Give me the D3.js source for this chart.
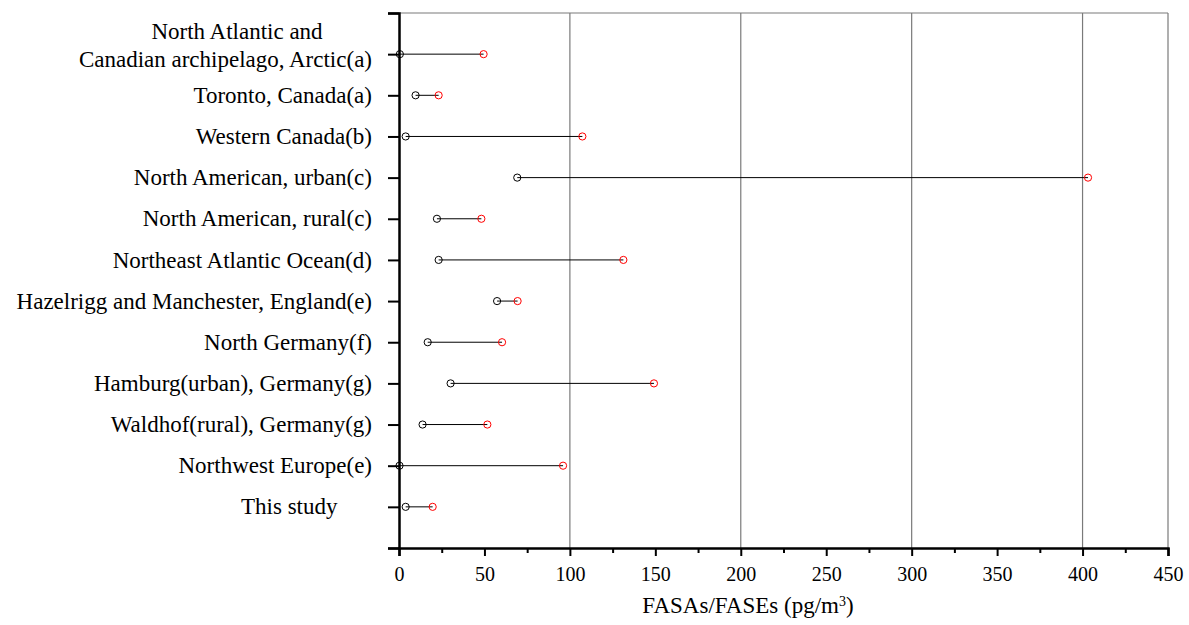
<!DOCTYPE html>
<html>
<head>
<meta charset="utf-8">
<script src="https://cdn.jsdelivr.net/npm/d3@7"></script>
<style>
  html, body { margin: 0; padding: 0; background: #fff; }
  svg { display: block; }
  text { font-family: "Liberation Serif", "Times New Roman", serif; fill: #000; }
</style>
</head>
<body>
<svg id="chart" width="1189" height="625"></svg>
<script>
// ---- data ----
const categories = [
  ["North Atlantic and", "Canadian archipelago, Arctic(a)"],
  ["Toronto, Canada(a)"],
  ["Western Canada(b)"],
  ["North American, urban(c)"],
  ["North American, rural(c)"],
  ["Northeast Atlantic Ocean(d)"],
  ["Hazelrigg and Manchester, England(e)"],
  ["North Germany(f)"],
  ["Hamburg(urban), Germany(g)"],
  ["Waldhof(rural), Germany(g)"],
  ["Northwest Europe(e)"],
  ["This study\u00A0\u00A0\u00A0\u00A0\u00A0\u00A0"]
];
const minValues = [0.5, 9.7, 3.9, 69.2, 22.2, 23.2, 57.4, 16.8, 30.2, 13.8, 0.3, 3.9];
const maxValues = [49.5, 23.2, 107.3, 403.2, 48.2, 131.3, 69.4, 60.3, 149.2, 51.7, 96, 19.7];
const xTicks = [0, 50, 100, 150, 200, 250, 300, 350, 400, 450];
const xMinorTicks = [25, 75, 125, 175, 225, 275, 325, 375, 425];
const gridValues = [100, 200, 300, 400];
const xTitle = "FASAs/FASEs (pg/m";

// ---- layout ----
const svg = d3.select("#chart");
const mLeft = 399, mRight = 1168, mTop = 13, mBottom = 548;
const x = d3.scaleLinear().domain([0, 450]).range([mLeft, mRight]);
const nSlots = categories.length + 1;
const y = d3.scaleLinear().domain([0, nSlots]).range([mTop, mBottom]);

// grid lines
svg.append("g").selectAll("line").data(gridValues).join("line")
  .attr("x1", d => x(d)).attr("x2", d => x(d))
  .attr("y1", mTop).attr("y2", mBottom)
  .attr("stroke", "#7a7a7a").attr("stroke-width", 1.2);

// top & right frame
svg.append("line").attr("x1", mLeft).attr("x2", mRight).attr("y1", mTop).attr("y2", mTop)
  .attr("stroke", "#7a7a7a").attr("stroke-width", 1.2);
svg.append("line").attr("x1", mRight).attr("x2", mRight).attr("y1", mTop).attr("y2", mBottom)
  .attr("stroke", "#7a7a7a").attr("stroke-width", 1.2);

// x axis
const xAxis = d3.axisBottom(x).tickValues(xTicks).tickSize(8).tickPadding(11).tickFormat(d3.format("d"));
const gx = svg.append("g").attr("transform", `translate(0,${mBottom})`).call(xAxis);
gx.select(".domain").attr("stroke", "#000").attr("stroke-width", 2.5);
gx.selectAll(".tick line").attr("stroke", "#000").attr("stroke-width", 2);
gx.selectAll(".tick text").attr("font-size", "20px").attr("font-family", "Liberation Serif, serif").attr("fill", "#000");
const xMinor = d3.axisBottom(x).tickValues(xMinorTicks).tickSize(5).tickFormat("");
const gxm = svg.append("g").attr("transform", `translate(0,${mBottom})`).call(xMinor);
gxm.select(".domain").remove();
gxm.selectAll(".tick line").attr("stroke", "#000").attr("stroke-width", 2);

// y axis
const yAxis = d3.axisLeft(y).tickValues(d3.range(0, nSlots + 1)).tickSize(11).tickFormat("");
const gy = svg.append("g").attr("transform", `translate(${mLeft},0)`).call(yAxis);
gy.select(".domain").attr("stroke", "#000").attr("stroke-width", 2.5);
gy.selectAll(".tick line").attr("stroke", "#000").attr("stroke-width", 2);

// category labels
const labelG = svg.append("g");
categories.forEach((lines, i) => {
  const yc = y(i + 1);
  if (lines.length === 1) {
    labelG.append("text").attr("x", 372).attr("y", yc).attr("dy", "0.33em")
      .attr("text-anchor", "end").attr("font-size", "23px")
      .style("white-space", "pre").text(lines[0]);
  } else {
    labelG.append("text").attr("x", 237).attr("y", yc - 23).attr("dy", "0.33em")
      .attr("text-anchor", "middle").attr("font-size", "23px").text(lines[0]);
    labelG.append("text").attr("x", 372).attr("y", yc + 5).attr("dy", "0.33em")
      .attr("text-anchor", "end").attr("font-size", "23px").text(lines[1]);
  }
});

// range lines
const rows = categories.map((c, i) => ({ i, lo: minValues[i], hi: maxValues[i] }));
svg.append("g").selectAll("line").data(rows).join("line")
  .attr("x1", d => x(d.lo)).attr("x2", d => x(d.hi))
  .attr("y1", d => y(d.i + 1)).attr("y2", d => y(d.i + 1))
  .attr("stroke", "#000").attr("stroke-width", 1);

// markers
svg.append("g").selectAll("circle").data(rows).join("circle")
  .attr("cx", d => x(d.lo)).attr("cy", d => y(d.i + 1)).attr("r", 3.6)
  .attr("fill", "none").attr("stroke", "#000").attr("stroke-width", 1);
svg.append("g").selectAll("circle").data(rows).join("circle")
  .attr("cx", d => x(d.hi)).attr("cy", d => y(d.i + 1)).attr("r", 3.6)
  .attr("fill", "none").attr("stroke", "#ff0000").attr("stroke-width", 1);

// x title
const t = svg.append("text").attr("x", 748).attr("y", 613)
  .attr("text-anchor", "middle").attr("font-size", "23px");
t.append("tspan").text(xTitle);
t.append("tspan").attr("baseline-shift", "super").attr("font-size", "14px").text("3");
t.append("tspan").text(")");
</script>
</body>
</html>
